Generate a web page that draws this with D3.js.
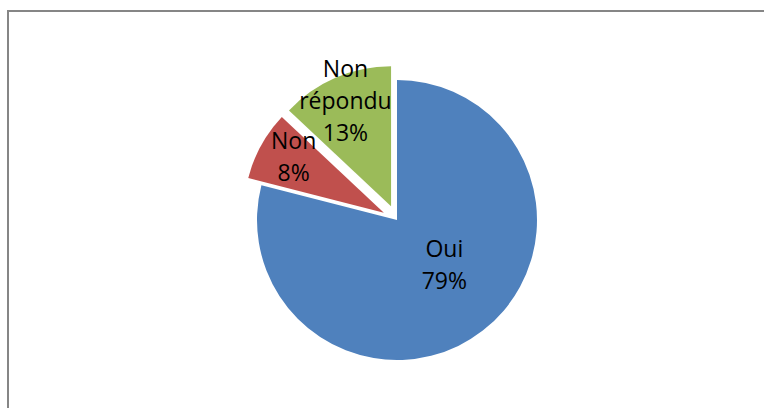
<!DOCTYPE html>
<html>
<head>
<meta charset="utf-8">
<script src="https://cdn.jsdelivr.net/npm/d3@7"></script>
<style>
  body { margin: 0; background: #fff; }
  text { font-family: "Open Sans", sans-serif; font-size: 23px; fill: #000; }
</style>
</head>
<body>
<div id="chart"></div>
<script>
// chart data
var categories = ["Oui", "Non", "Non répondu"];
var values = [79, 8, 13];
var labelLines = [["Oui", "79%"], ["Non", "8%"], ["Non", "répondu", "13%"]];
var colors = ["#4F81BD", "#C0504D", "#9BBB59"];

var svgWidth = 764;
var svgHeight = 408;

var svg = d3.select("#chart")
  .append("svg")
  .attr("width", svgWidth)
  .attr("height", svgHeight);

// chart border (runs off the right and bottom edges)
svg.append("rect")
  .attr("x", 8)
  .attr("y", 11)
  .attr("width", 800)
  .attr("height", 500)
  .attr("fill", "none")
  .attr("stroke", "#868686")
  .attr("stroke-width", 2);

var cx = 397, cy = 220, radius = 140;
var explode = [0, 15, 15];
var labelRatio = [0.47, 0.76, 0.82];
// small nudges so labels sit where Excel put them
var labelNudge = [[7, -7], [3, -5], [0, 0]];
var lineHeight = 32;

var pie = d3.pie().sort(null).value(d => d);
var arcs = pie(values);

var arc = d3.arc().innerRadius(0).outerRadius(radius);

function offset(d, r) {
  var a = (d.startAngle + d.endAngle) / 2;
  return [Math.sin(a) * r, -Math.cos(a) * r];
}

var g = svg.append("g")
  .attr("transform", `translate(${cx}, ${cy})`);

var slices = g.selectAll("g.slice")
  .data(arcs)
  .enter()
  .append("g")
  .attr("class", "slice")
  .attr("transform", (d, i) => {
    var o = offset(d, explode[i]);
    return `translate(${o[0]}, ${o[1]})`;
  });

slices.append("path")
  .attr("d", arc)
  .attr("fill", (d, i) => colors[i]);

// labels
slices.each(function(d, i) {
  var o = offset(d, radius * labelRatio[i]);
  var lx = o[0] + labelNudge[i][0];
  var ly = o[1] + labelNudge[i][1];
  var lines = labelLines[i];
  var t = d3.select(this).append("text")
    .attr("text-anchor", "middle");
  lines.forEach(function(line, j) {
    t.append("tspan")
      .attr("x", lx)
      .attr("y", ly + (j - (lines.length - 1) / 2) * lineHeight + 8)
      .text(line);
  });
});
</script>
</body>
</html>
